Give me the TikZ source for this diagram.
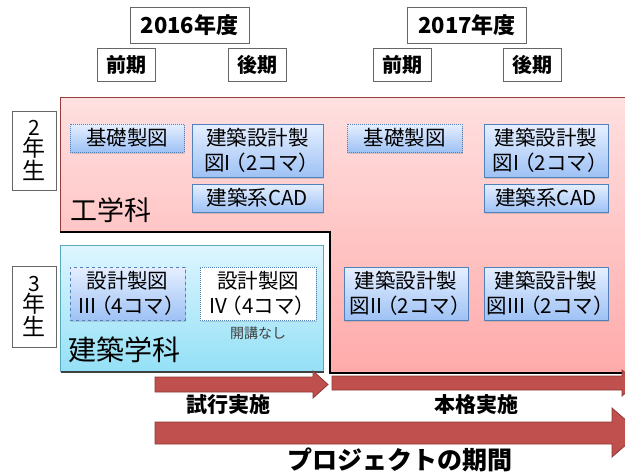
\documentclass[tikz,border=0pt]{standalone}
\usepackage{fontspec}
\setmainfont{Noto Sans CJK JP}
\usetikzlibrary{shadows}

\definecolor{pinktop}{RGB}{255,224,224}
\definecolor{pinkbot}{RGB}{255,170,170}
\definecolor{pinkline}{RGB}{150,60,60}
\definecolor{cyantop}{RGB}{222,246,255}
\definecolor{cyanbot}{RGB}{148,224,246}
\definecolor{cyanline}{RGB}{90,170,190}
\definecolor{boxtop}{RGB}{230,239,255}
\definecolor{boxbot}{RGB}{158,194,245}
\definecolor{boxline}{RGB}{79,129,189}
\definecolor{arrowfill}{RGB}{192,80,77}
\definecolor{arrowline}{RGB}{140,56,54}

% tighter full-width brackets
\newcommand{\lpar}{\kern-0.25em（}
\newcommand{\rpar}{）\kern-0.4em}

\begin{document}
\begin{tikzpicture}
	[x=1pt,y=-1pt,every node/.style={inner sep=0pt, align=center}]
	\tikzstyle{yearbox} = [draw=gray!80!black, fill=white, minimum width=119pt, minimum height=36pt, font=\bfseries\fontsize{22}{24}\selectfont];
	\tikzstyle{termbox} = [draw=gray!80!black, fill=white, minimum width=58pt, minimum height=33pt, font=\bfseries\fontsize{20}{22}\selectfont];
	\tikzstyle{gradebox} = [draw=gray!80!black, fill=white, minimum width=44pt, font=\fontsize{23}{24}\selectfont];
	\tikzstyle{course} = [draw=boxline, line width=1pt, top color=boxtop, bottom color=boxbot, font=\fontsize{20.5}{25}\selectfont, drop shadow={shadow xshift=1pt, shadow yshift=-1.5pt, opacity=0.3}];
	\tikzstyle{arrowshape} = [fill=arrowfill, draw=arrowline, line width=0.8pt];
	\tikzstyle{caption} = [font=\bfseries\fontsize{21}{22}\selectfont];
	
	\useasboundingbox (0,0) rectangle (625,472);
	\clip (0,0) rectangle (625,472);
	
	% years and terms
	\node[yearbox] (y16) at (189.5,25) {2016年度};
	\node[yearbox] (y17) at (467,25) {2017年度};
	\node[termbox] (zen16) at (126.5,64.5) {前期};
	\node[termbox] (kou16) at (257.5,64.5) {後期};
	\node[termbox] (zen17) at (402,64.5) {前期};
	\node[termbox] (kou17) at (532,64.5) {後期};
	
	% departments
	\draw[pinkline, top color=pinktop, bottom color=pinkbot] (60,97) -- (645,97) -- (645,372) -- (330,372) -- (330,231) -- (60,231) -- cycle;
	\draw[black, line width=2pt] (60,232) -- (330,232) -- (330,373) -- (645,373);
	\draw[cyanline, top color=cyantop, bottom color=cyanbot] (60,245) rectangle (323,371);
	\draw[black!75, line width=1.2pt] (61,372) -- (324,372);
	\node[anchor=west, font=\fontsize{27}{27}\selectfont] (kougaku) at (70,210) {工学科};
	\node[anchor=west, font=\fontsize{28}{28}\selectfont] (kenchiku) at (68,350) {建築学科};
	
	% grades
	\node[gradebox, minimum height=79pt] (g2) at (34,150.5) {{\fontsize{21}{20}\selectfont 2}\\[-3pt]年\\[-1pt]生};
	\node[gradebox, minimum height=81pt] (g3) at (34,306.5) {{\fontsize{21}{20}\selectfont 3}\\[-3pt]年\\[-1pt]生};
	
	% courses
	\node[course, densely dotted, minimum width=114pt, minimum height=28pt] (kiso16) at (127,138) {基礎製図};
	\node[course, minimum width=131pt, minimum height=53pt] (sek16) at (257.5,150.5) {建築設計製\\図I\lpar 2コマ\rpar};
	\node[course, minimum width=131pt, minimum height=28pt] (cad16) at (257.5,198) {建築系CAD};
	\node[course, densely dotted, minimum width=115pt, minimum height=28pt] (kiso17) at (404.5,138) {基礎製図};
	\node[course, minimum width=124pt, minimum height=53pt] (sek17) at (546,150.5) {建築設計製\\図I\lpar 2コマ\rpar};
	\node[course, minimum width=124pt, minimum height=28pt] (cad17) at (546,198) {建築系CAD};
	\node[course, dashed, minimum width=115pt, minimum height=53pt] (sz3) at (127.5,293.5) {設計製図\\III\lpar 4コマ\rpar};
	\node[course, densely dotted, top color=white, bottom color=white, minimum width=116pt, minimum height=53pt] (sz4) at (258,293.5) {設計製図\\IV\lpar 4コマ\rpar};
	\node[font=\fontsize{14}{14}\selectfont, text=black!75] (nashi) at (258,333) {開講なし};
	\node[course, minimum width=124pt, minimum height=53pt] (sek2) at (406,293.5) {建築設計製\\図II\lpar 2コマ\rpar};
	\node[course, minimum width=124pt, minimum height=53pt] (sek3) at (546,293.5) {建築設計製\\図III\lpar 2コマ\rpar};
	
	% arrows
	\draw[arrowshape] (155,377) -- (313,377) -- (313,371) -- (328,384.5) -- (313,398) -- (313,392) -- (155,392) -- cycle;
	\draw[arrowshape] (332,376) -- (622,376) -- (622,370) -- (637,383) -- (622,396) -- (622,390) -- (332,390) -- cycle;
	\draw[arrowshape] (155,422) -- (612,422) -- (612,408) -- (640,432.5) -- (612,457) -- (612,444) -- (155,444) -- cycle;
	\node[caption] (shikou) at (228,405) {試行実施};
	\node[caption] (honkaku) at (476,405) {本格実施};
	\node[caption, font=\bfseries\fontsize{25}{26}\selectfont] (kikan) at (400,460) {プロジェクトの期間};
\end{tikzpicture}
\end{document}
